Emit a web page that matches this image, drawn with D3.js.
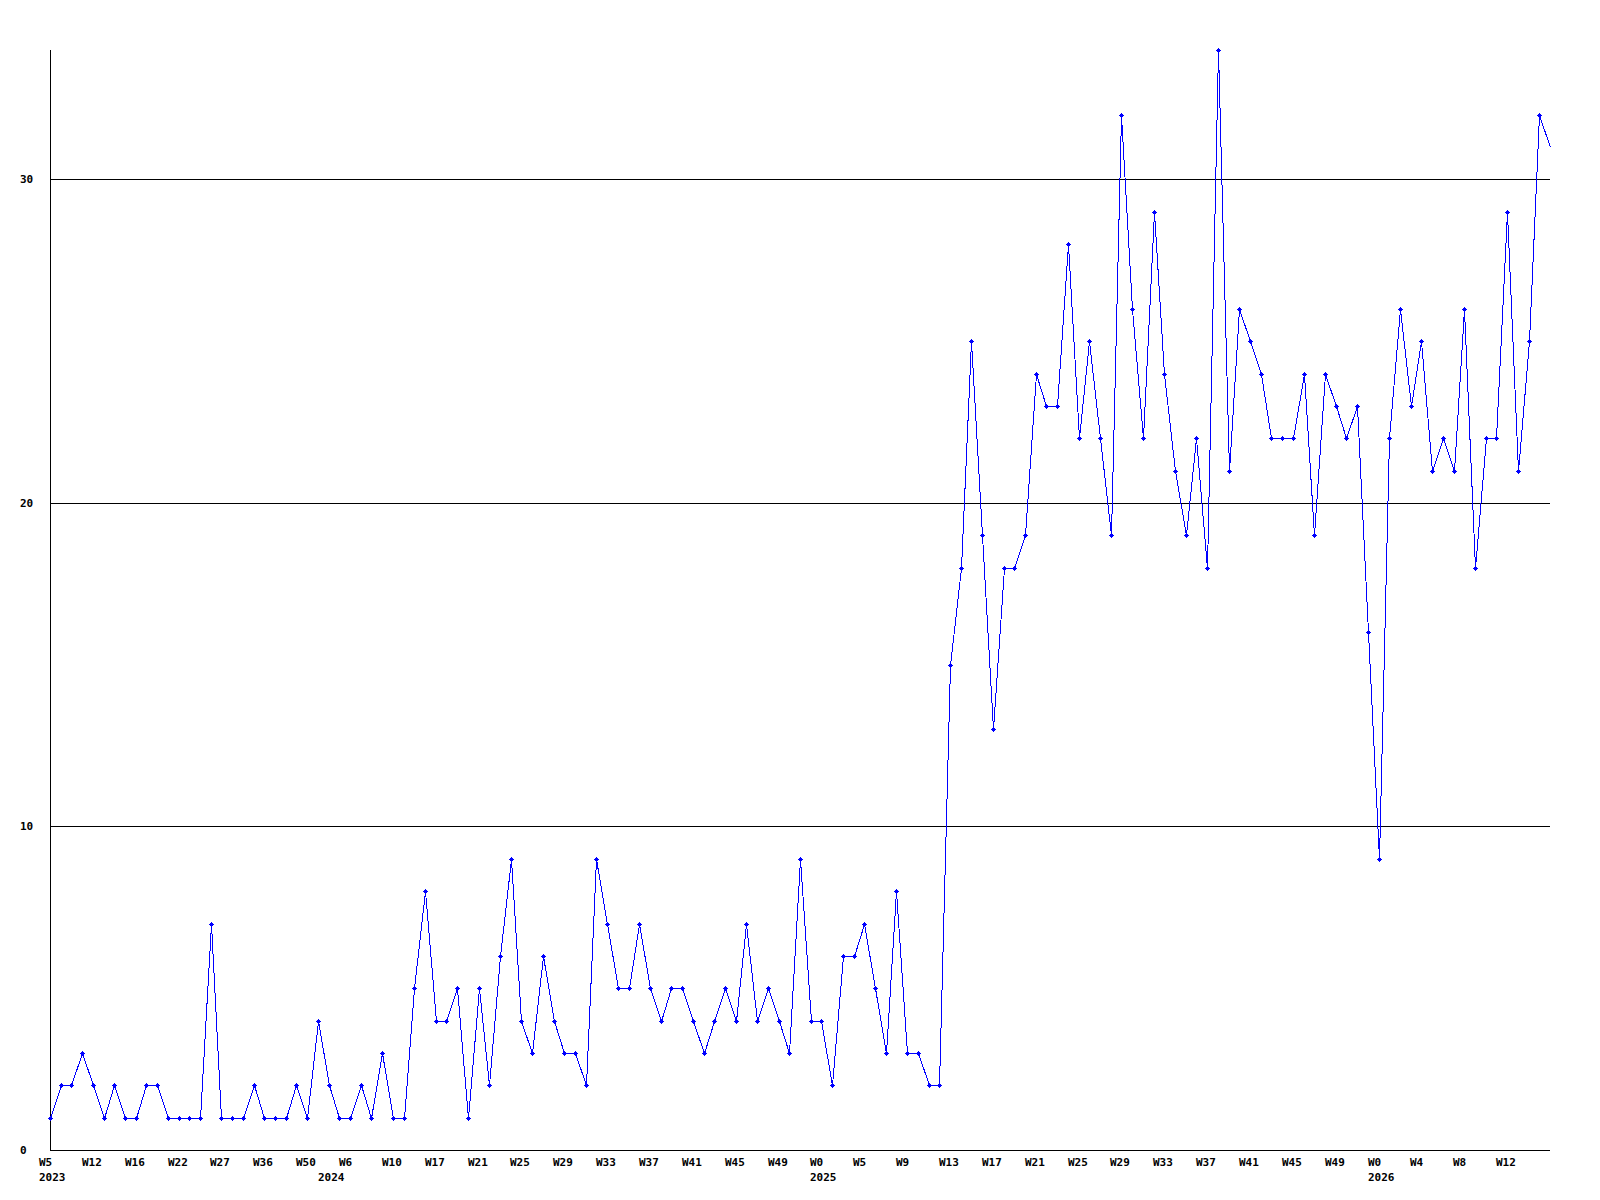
<!DOCTYPE html>
<html>
<head>
<meta charset="utf-8">
<script src="https://cdn.jsdelivr.net/npm/d3@7"></script>
<style>
  html, body { margin: 0; padding: 0; background: #fff; }
  svg { display: block; }
  text { font-family: "DejaVu Sans Mono", "Liberation Mono", monospace; font-weight: bold; font-size: 11px; fill: #000; }
</style>
</head>
<body>
<svg id="chart" width="1600" height="1200"></svg>
<script>
// ---- data ----
const values = [
  1, 2, 2, 3, 2, 1, 2, 1, 1, 2, 2, 1, 1, 1, 1, 7, 1, 1, 1, 2,
  1, 1, 1, 2, 1, 4, 2, 1, 1, 2, 1, 3, 1, 1, 5, 8, 4, 4, 5, 1,
  5, 2, 6, 9, 4, 3, 6, 4, 3, 3, 2, 9, 7, 5, 5, 7, 5, 4, 5, 5,
  4, 3, 4, 5, 4, 7, 4, 5, 4, 3, 9, 4, 4, 2, 6, 6, 7, 5, 3, 8,
  3, 3, 2, 2, 15, 18, 25, 19, 13, 18, 18, 19, 24, 23, 23, 28, 22, 25, 22, 19,
  32, 26, 22, 29, 24, 21, 19, 22, 18, 34, 21, 26, 25, 24, 22, 22, 22, 24, 19, 24,
  23, 22, 23, 16, 9, 22, 26, 23, 25, 21, 22, 21, 26, 18, 22, 22, 29, 21, 25, 32,
  31
];
const weekLabels = [
  "W5", "W12", "W16", "W22", "W27", "W36", "W50", "W6", "W10", "W17",
  "W21", "W25", "W29", "W33", "W37", "W41", "W45", "W49", "W0", "W5",
  "W9", "W13", "W17", "W21", "W25", "W29", "W33", "W37", "W41", "W45",
  "W49", "W0", "W4", "W8", "W12"
];
const weekLabelStep = 4;
const yearLabels = ["2023", "2024", "2025", "2026"];
const yearLabelIndex = [0, 26, 72, 124];
const yTicks = [0, 10, 20, 30];
const yMax = 34;

// ---- layout ----
const mLeft = 50, mRight = 1550, mTop = 50, mBottom = 1150;
const svg = d3.select("#chart");

const x = d3.scaleLinear().domain([0, values.length - 1]).range([mLeft, mRight]);
const y = d3.scaleLinear().domain([0, yMax]).range([mBottom, mTop]);
const px = v => Math.round(x(v));
const py = v => Math.round(y(v));

// gridlines
svg.append("g").selectAll("line")
  .data(yTicks.filter(d => d > 0))
  .join("line")
  .attr("x1", mLeft).attr("x2", mRight)
  .attr("y1", d => py(d) + 0.5).attr("y2", d => py(d) + 0.5)
  .attr("stroke", "#000").attr("stroke-width", 1)
  .attr("shape-rendering", "crispEdges");

// axes lines
svg.append("line")
  .attr("x1", mLeft + 0.5).attr("x2", mLeft + 0.5)
  .attr("y1", py(yMax)).attr("y2", mBottom + 1)
  .attr("stroke", "#000").attr("shape-rendering", "crispEdges");
svg.append("line")
  .attr("x1", mLeft).attr("x2", mRight)
  .attr("y1", mBottom + 0.5).attr("y2", mBottom + 0.5)
  .attr("stroke", "#000").attr("shape-rendering", "crispEdges");

// y tick labels
svg.append("g").selectAll("text")
  .data(yTicks)
  .join("text")
  .attr("x", 20)
  .attr("y", d => py(d) + 4)
  .text(d => d);

// x week labels
svg.append("g").selectAll("text")
  .data(weekLabels)
  .join("text")
  .attr("x", (d, i) => px(i * weekLabelStep) - 11)
  .attr("y", 1166)
  .text(d => d);

// year labels
svg.append("g").selectAll("text")
  .data(yearLabels)
  .join("text")
  .attr("x", (d, i) => px(yearLabelIndex[i]) - 11)
  .attr("y", 1181)
  .text(d => d);

// line
const line = d3.line()
  .x((d, i) => px(i) + 0.5)
  .y(d => py(d) + 0.5);
svg.append("path")
  .datum(values)
  .attr("d", line)
  .attr("fill", "none")
  .attr("stroke", "#0000ff")
  .attr("stroke-width", 1)
  .attr("shape-rendering", "crispEdges");

// markers (plus with filled centre), last point has none
const markerPath = (cx, cy) =>
  `M${cx - 2},${cy}h5v1h-5z M${cx},${cy - 2}h1v5h-1z M${cx - 1},${cy - 1}h3v3h-3z`;
svg.append("g").selectAll("path")
  .data(values.slice(0, values.length - 1))
  .join("path")
  .attr("d", (d, i) => markerPath(px(i), py(d)))
  .attr("fill", "#0000ff")
  .attr("shape-rendering", "crispEdges");
</script>
</body>
</html>
